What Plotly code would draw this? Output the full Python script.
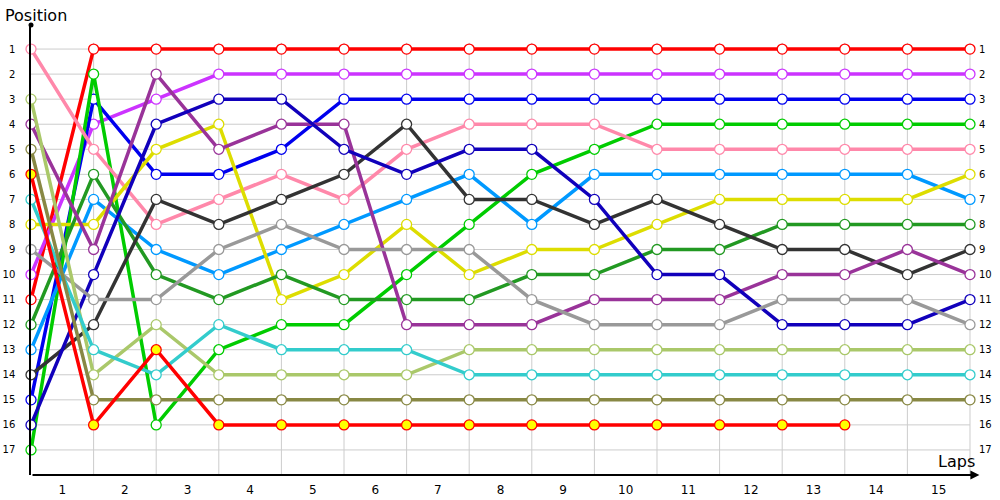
import plotly.graph_objects as go

laps = list(range(0, 16))
lap_labels = [str(i) for i in range(1, 16)]
positions = list(range(1, 18))

drivers = [
    ("red_a",      "#ff0000", "white",   [11, 1, 1, 1, 1, 1, 1, 1, 1, 1, 1, 1, 1, 1, 1, 1]),
    ("violet",     "#cc33ff", "white",   [10, 4, 3, 2, 2, 2, 2, 2, 2, 2, 2, 2, 2, 2, 2, 2]),
    ("blue",       "#0000ee", "white",   [15, 3, 6, 6, 5, 3, 3, 3, 3, 3, 3, 3, 3, 3, 3, 3]),
    ("green",      "#00cc00", "white",   [17, 2, 16, 13, 12, 12, 10, 8, 6, 5, 4, 4, 4, 4, 4, 4]),
    ("pink",       "#ff88aa", "white",   [1, 5, 8, 7, 6, 7, 5, 4, 4, 4, 5, 5, 5, 5, 5, 5]),
    ("lightblue",  "#0099ff", "white",   [13, 7, 9, 10, 9, 8, 7, 6, 8, 6, 6, 6, 6, 6, 6, 7]),
    ("yellow",     "#dddd00", "white",   [8, 8, 5, 4, 11, 10, 8, 10, 9, 9, 8, 7, 7, 7, 7, 6]),
    ("darkgreen",  "#229922", "white",   [12, 6, 10, 11, 10, 11, 11, 11, 10, 10, 9, 9, 8, 8, 8, 8]),
    ("darkgray",   "#333333", "white",   [14, 12, 7, 8, 7, 6, 4, 7, 7, 8, 7, 8, 9, 9, 10, 9]),
    ("purple",     "#993399", "white",   [4, 9, 2, 5, 4, 4, 12, 12, 12, 11, 11, 11, 10, 10, 9, 10]),
    ("darkblue",   "#1100bb", "white",   [16, 10, 4, 3, 3, 5, 6, 5, 5, 7, 10, 10, 12, 12, 12, 11]),
    ("gray",       "#999999", "white",   [9, 11, 11, 9, 8, 9, 9, 9, 11, 12, 12, 12, 11, 11, 11, 12]),
    ("lightgreen", "#aac86a", "white",   [3, 14, 12, 14, 14, 14, 14, 13, 13, 13, 13, 13, 13, 13, 13, 13]),
    ("teal",       "#33cccc", "white",   [7, 13, 14, 12, 13, 13, 13, 14, 14, 14, 14, 14, 14, 14, 14, 14]),
    ("olive",      "#888844", "white",   [5, 15, 15, 15, 15, 15, 15, 15, 15, 15, 15, 15, 15, 15, 15, 15]),
    ("red_b",      "#ff0000", "#ffff00", [6, 16, 13, 16, 16, 16, 16, 16, 16, 16, 16, 16, 16, 16]),
]

fig = go.Figure()

# grid
grid_col = "#cccccc"
shapes = []
for lp in laps[1:]:
    shapes.append(dict(type="line", xref="x", yref="y", x0=lp, x1=lp, y0=0.75, y1=18,
                       line=dict(color=grid_col, width=1), layer="below"))
for p in positions:
    shapes.append(dict(type="line", xref="x", yref="y", x0=0, x1=laps[-1], y0=p, y1=p,
                       line=dict(color=grid_col, width=1), layer="below"))

for name, col, fill, vals in drivers:
    fig.add_trace(go.Scatter(
        x=laps[:len(vals)], y=vals, mode="lines+markers", name=name,
        line=dict(color=col, width=3.5),
        marker=dict(size=10, color=fill, line=dict(color=col, width=1.3)),
        cliponaxis=False, showlegend=False, hoverinfo="skip"))

# top dot of y axis
fig.add_trace(go.Scatter(x=[0], y=[0.04], mode="markers", marker=dict(size=5, color="black"),
                         cliponaxis=False, showlegend=False, hoverinfo="skip"))
# dummy for right axis
fig.add_trace(go.Scatter(x=[0], y=[1], yaxis="y2", mode="markers", marker=dict(opacity=0),
                         showlegend=False, hoverinfo="skip"))

yr = [18, 0.04]
fig.update_layout(
    width=1000, height=500,
    margin=dict(l=31, r=25, t=25, b=25),
    plot_bgcolor="white", paper_bgcolor="white",
    font=dict(family="DejaVu Sans", color="#000000"),
    shapes=shapes,
    xaxis=dict(range=[0, 15.08], showgrid=False, zeroline=False, automargin=False,
               tickvals=[i + 0.5 for i in range(15)], ticktext=lap_labels,
               ticks="outside", ticklen=4, tickcolor="rgba(0,0,0,0)",
               tickfont=dict(size=12, family="DejaVu Sans"),
               showline=False),
    yaxis=dict(range=yr, showgrid=False, zeroline=False, automargin=False,
               tickvals=positions, ticktext=[str(p) for p in positions],
               ticks="outside", ticklen=12, tickcolor="rgba(0,0,0,0)",
               tickfont=dict(size=10, family="DejaVu Sans"),
               showline=True, linecolor="black", linewidth=1.5),
    yaxis2=dict(range=yr, overlaying="y", side="right", showgrid=False, zeroline=False,
                automargin=False,
                tickvals=positions, ticktext=[str(p) for p in positions],
                ticks="outside", ticklen=1, tickcolor="rgba(0,0,0,0)",
                tickfont=dict(size=10, family="DejaVu Sans"), showline=False),
    annotations=[
        dict(x=15.15, y=18, ax=0, ay=18, xref="x", yref="y", axref="x", ayref="y",
             showarrow=True, arrowhead=2, arrowsize=1, arrowwidth=1.8, arrowcolor="black", text=""),
        dict(x=0, y=1, xref="paper", yref="paper", yshift=-2, xshift=-28, text="Position",
             showarrow=False, xanchor="left", yanchor="bottom",
             font=dict(size=16, family="DejaVu Sans", color="#000")),
        dict(x=1, y=0, xref="paper", yref="paper", xshift=2, yshift=2, text="Laps",
             showarrow=False, xanchor="right", yanchor="bottom",
             font=dict(size=16, family="DejaVu Sans", color="#000")),
    ],
)

fig.write_html("out.html", config={"displayModeBar": False},
               post_script="document.body.style.margin='0';")
